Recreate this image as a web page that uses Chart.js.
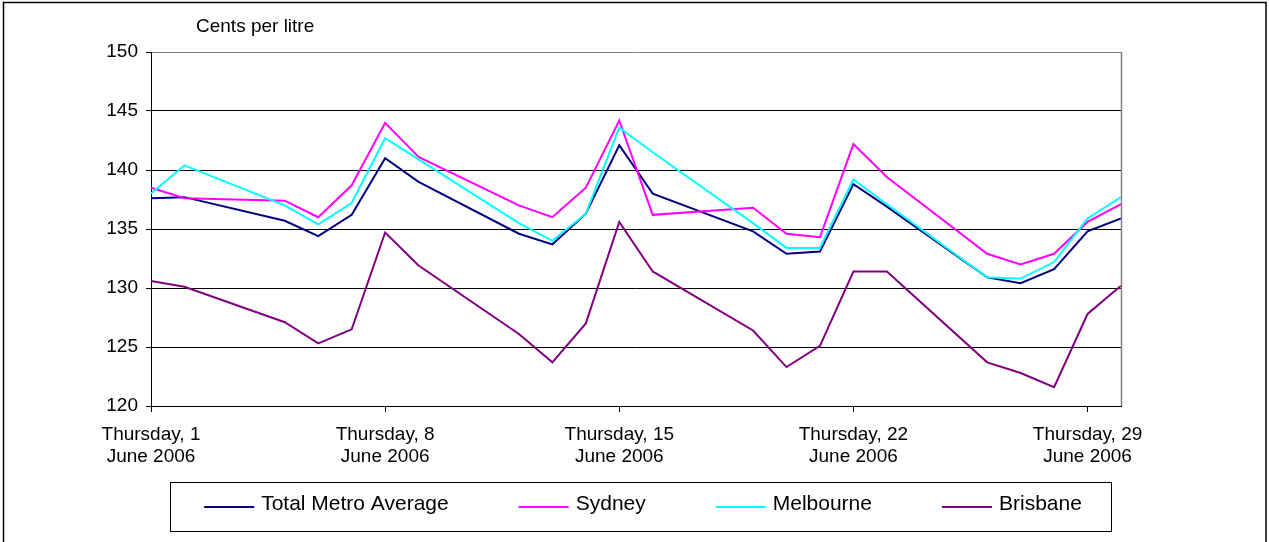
<!DOCTYPE html>
<html>
<head>
<meta charset="utf-8">
<title>Cents per litre – June 2006</title>
<script src="https://cdn.jsdelivr.net/npm/chart.js@4/dist/chart.umd.min.js"></script>
<style>
  html, body { margin: 0; padding: 0; background: #fff; }
  canvas { display: block; }
</style>
</head>
<body>
<canvas id="chart" width="1269" height="542"></canvas>
<script>
// Trading days of June 2006 (day of month)
const days = [1, 2, 5, 6, 7, 8, 9, 12, 13, 14, 15, 16, 19, 20, 21, 22, 23, 26, 27, 28, 29, 30];

// Average unleaded price, cents per litre
const totalMetroAverage = [137.6, 137.7, 135.7, 134.4, 136.2, 141.0, 139.0, 134.6, 133.7, 136.3, 142.1, 138.0, 134.8, 132.9, 133.1, 138.8, 136.9, 130.9, 130.4, 131.6, 134.8, 135.9];
const sydney            = [138.5, 137.6, 137.4, 136.0, 138.7, 144.0, 141.1, 137.0, 136.0, 138.5, 144.2, 136.2, 136.8, 134.6, 134.3, 142.2, 139.4, 132.9, 132.0, 132.9, 135.6, 137.1];
const melbourne         = [138.0, 140.4, 137.0, 135.4, 137.2, 142.7, 140.9, 135.5, 134.0, 136.3, 143.6, 141.5, 135.5, 133.4, 133.4, 139.2, 137.1, 130.9, 130.8, 132.2, 135.9, 137.7];
const brisbane          = [130.6, 130.1, 127.1, 125.3, 126.5, 134.7, 131.9, 126.1, 123.7, 127.0, 135.6, 131.4, 126.4, 123.3, 125.1, 131.4, 131.4, 123.7, 122.8, 121.6, 127.8, 130.2];

// Weekly x-axis ticks
const tickDays = [1, 8, 15, 22, 29];
const tickLabels = [
  ['Thursday, 1', 'June 2006'],
  ['Thursday, 8', 'June 2006'],
  ['Thursday, 15', 'June 2006'],
  ['Thursday, 22', 'June 2006'],
  ['Thursday, 29', 'June 2006']
];

const seriesNames = ['Total Metro Average', 'Sydney', 'Melbourne', 'Brisbane'];
const seriesValues = [totalMetroAverage, sydney, melbourne, brisbane];
const seriesColors = ['#000080', '#FF00FF', '#00FFFF', '#800080'];

const FONT = "'Liberation Sans', Arial, Helvetica, sans-serif";
Chart.defaults.font.family = FONT;
Chart.defaults.color = '#000';

const datasets = seriesNames.map((name, i) => ({
  label: name,
  data: days.map((d, j) => ({ x: d, y: seriesValues[i][j] })),
  borderColor: seriesColors[i],
  backgroundColor: seriesColors[i],
  borderWidth: 2,
  pointRadius: 0,
  pointHoverRadius: 0,
  tension: 0,
  // later series sit on top of earlier ones
  order: seriesNames.length - i
}));

// Frame around the whole chart, the y-axis caption, plot edge and the boxed legend
const decorations = {
  id: 'decorations',
  afterDraw(chart, args, opts) {
    const ctx = chart.ctx;
    ctx.save();

    ctx.strokeStyle = '#000';
    ctx.lineWidth = 1.5;
    ctx.strokeRect(3.5, 2.5, 1262.5, 560);

    ctx.font = '19px ' + FONT;
    ctx.fillStyle = '#000';
    ctx.textAlign = 'left';
    ctx.textBaseline = 'alphabetic';
    ctx.fillText('Cents per litre', 196, 31.5);

    // plot-area right edge
    const a = chart.chartArea;
    ctx.strokeStyle = '#808080';
    ctx.lineWidth = 1.5;
    ctx.beginPath();
    ctx.moveTo(Math.round(a.right) + 0.5, a.top);
    ctx.lineTo(Math.round(a.right) + 0.5, a.bottom);
    ctx.stroke();

    // legend: line sample + series name, centred in a framed box
    const lg = opts.legend;
    ctx.font = lg.fontSize + 'px ' + FONT;
    const items = chart.data.datasets.map(ds => ({
      text: ds.label,
      color: ds.borderColor,
      width: lg.sample + lg.textGap + ctx.measureText(ds.label).width
    }));
    const total = items.reduce((s, it) => s + it.width, 0) + lg.itemGap * (items.length - 1);
    let x = lg.centerX - total / 2;
    ctx.textBaseline = 'middle';
    items.forEach(it => {
      ctx.strokeStyle = it.color;
      ctx.lineWidth = 2;
      ctx.beginPath();
      ctx.moveTo(x, lg.sampleY);
      ctx.lineTo(x + lg.sample, lg.sampleY);
      ctx.stroke();
      ctx.fillStyle = '#000';
      ctx.fillText(it.text, x + lg.sample + lg.textGap, lg.textY);
      x += it.width + lg.itemGap;
    });
    ctx.strokeStyle = '#000';
    ctx.lineWidth = 1;
    ctx.strokeRect(lg.box[0] + 0.5, lg.box[1] + 0.5, lg.box[2] - lg.box[0], lg.box[3] - lg.box[1]);

    ctx.restore();
  }
};

new Chart(document.getElementById('chart'), {
  type: 'line',
  data: { datasets },
  options: {
    responsive: false,
    animation: false,
    devicePixelRatio: 1,
    layout: { padding: { left: 16, right: 0, top: 52, bottom: 0 } },
    plugins: {
      tooltip: { enabled: false },
      title: { display: false },
      legend: { display: false },
      decorations: {
        legend: {
          fontSize: 21,
          sample: 50,
          textGap: 7,
          itemGap: 70,
          centerX: 643,
          sampleY: 507,
          textY: 504,
          box: [170, 482, 1111, 531]
        }
      }
    },
    scales: {
      x: {
        type: 'linear',
        min: 1,
        max: 30,
        afterBuildTicks: (scale) => { scale.ticks = tickDays.map(v => ({ value: v })); },
        afterFit: (scale) => { scale.height = 136; },
        ticks: {
          autoSkip: false,
          maxRotation: 0,
          minRotation: 0,
          padding: 12,
          font: { size: 19, lineHeight: 1.16 },
          color: '#000',
          callback: (v) => {
            const k = tickDays.indexOf(v);
            return k >= 0 ? tickLabels[k] : '';
          }
        },
        grid: {
          drawOnChartArea: false,
          drawTicks: true,
          tickLength: 6,
          color: '#000',
          tickColor: '#000'
        },
        border: { display: true, color: '#000', width: 1 }
      },
      y: {
        type: 'linear',
        min: 120,
        max: 150,
        afterFit: (scale) => { scale.width = 135; },
        ticks: {
          stepSize: 5,
          padding: 8,
          font: { size: 19 },
          color: '#000'
        },
        grid: {
          drawTicks: true,
          tickLength: 5,
          color: (c) => (c.tick && c.tick.value === 150 ? '#808080' : '#000'),
          tickColor: '#000',
          lineWidth: 1
        },
        border: { display: true, color: '#000', width: 1 }
      },
      // empty band on the right of the plot area
      spacer: {
        type: 'linear',
        position: 'right',
        display: true,
        afterFit: (scale) => { scale.width = 148; },
        ticks: { display: false },
        grid: { display: false },
        border: { display: false }
      }
    }
  },
  plugins: [decorations]
});
</script>
</body>
</html>
